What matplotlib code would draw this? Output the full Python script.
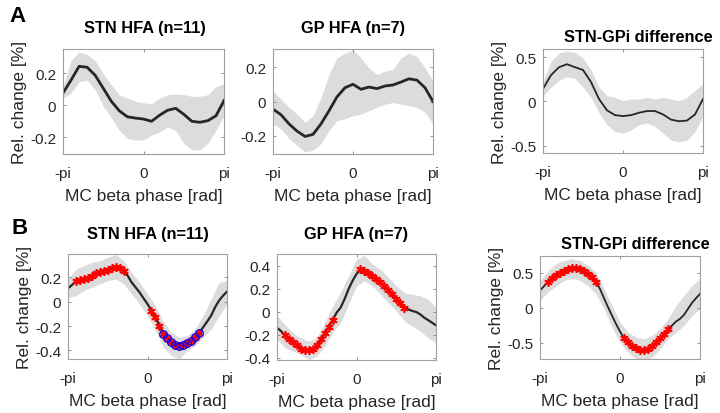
import numpy as np
import matplotlib
matplotlib.use("Agg")
from matplotlib import pyplot as plt

plt.rcParams['font.family'] = ['Liberation Sans', 'DejaVu Sans']

# phase grids (21 and 41 samples from -pi to pi)
phase21 = np.linspace(-np.pi, np.pi, 21)
phase41 = np.linspace(-np.pi, np.pi, 41)

# ---- row A ----
stn_a_mean = [0.075, 0.156, 0.242, 0.236, 0.186, 0.105, 0.024, -0.036, -0.073, -0.081, -0.087,
              -0.101, -0.063, -0.032, -0.020, -0.057, -0.101, -0.107, -0.097, -0.067, 0.028]
stn_a_hi = [0.115, 0.277, 0.331, 0.317, 0.277, 0.196, 0.125, 0.065, 0.044, 0.024, 0.014,
            0.008, 0.044, 0.065, 0.069, 0.065, 0.055, 0.055, 0.065, 0.115, 0.135]
stn_a_lo = [0.044, 0.075, 0.145, 0.156, 0.095, -0.006, -0.077, -0.158, -0.208, -0.218, -0.218,
            -0.188, -0.168, -0.137, -0.158, -0.238, -0.279, -0.279, -0.238, -0.158, -0.067]

gp_a_mean = [-0.044, -0.077, -0.130, -0.172, -0.203, -0.191, -0.130, -0.054, 0.027, 0.080, 0.100,
             0.071, 0.084, 0.075, 0.090, 0.096, 0.113, 0.132, 0.124, 0.080, 0.0]
gp_a_hi = [0.061, 0.013, -0.034, -0.073, -0.121, -0.082, 0.023, 0.157, 0.253, 0.281, 0.300,
           0.253, 0.195, 0.157, 0.176, 0.186, 0.253, 0.281, 0.262, 0.195, 0.119]
gp_a_lo = [-0.130, -0.159, -0.216, -0.255, -0.293, -0.283, -0.245, -0.168, -0.111, -0.101, -0.082,
           -0.073, -0.054, -0.034, -0.015, -0.006, -0.015, -0.025, -0.034, -0.063, -0.130]

diff_a_mean = [0.142, 0.296, 0.385, 0.419, 0.385, 0.354, 0.219, 0.027, -0.100, -0.154, -0.165,
               -0.154, -0.127, -0.108, -0.108, -0.146, -0.204, -0.223, -0.215, -0.146, 0.027]
diff_a_hi = [0.219, 0.450, 0.546, 0.565, 0.554, 0.488, 0.354, 0.162, 0.065, 0.046, 0.008,
             0.027, 0.027, 0.046, 0.027, 0.046, 0.027, 0.008, 0.046, 0.123, 0.200]
diff_a_lo = [0.065, 0.162, 0.238, 0.277, 0.258, 0.162, 0.046, -0.127, -0.262, -0.338, -0.358,
             -0.319, -0.262, -0.242, -0.281, -0.358, -0.435, -0.454, -0.435, -0.338, -0.165]

# ---- row B ----
stn_b_mean = [0.109, 0.136, 0.166, 0.177, 0.185, 0.196, 0.207, 0.235, 0.240, 0.251, 0.262,
              0.275, 0.281, 0.273, 0.254, 0.213, 0.158, 0.117, 0.076, 0.027, -0.019,
              -0.074, -0.128, -0.196, -0.265, -0.300, -0.333, -0.352, -0.360, -0.352, -0.338,
              -0.319, -0.292, -0.256, -0.210, -0.164, -0.115, -0.046, 0.008, 0.049, 0.082]
stn_b_hi = [0.185, 0.267, 0.295, 0.322, 0.335, 0.363, 0.385, 0.335, 0.240, 0.158, 0.063,
            -0.033, -0.169, -0.251, -0.292, -0.278, -0.224, -0.115, 0.022, 0.158, 0.172]
stn_b_lo = [0.035, 0.049, 0.090, 0.117, 0.145, 0.172, 0.185, 0.145, 0.063, -0.019, -0.115,
            -0.237, -0.374, -0.442, -0.469, -0.401, -0.360, -0.292, -0.224, -0.115, -0.019]
stn_b_stars = [(2, 14), (21, 33)]
stn_b_circles = [(24, 33)]

gp_b_mean = [-0.140, -0.169, -0.207, -0.236, -0.265, -0.294, -0.323, -0.335, -0.335, -0.323, -0.294,
             -0.241, -0.183, -0.131, -0.073, -0.009, 0.035, 0.108, 0.195, 0.267, 0.326,
             0.369, 0.355, 0.335, 0.311, 0.282, 0.253, 0.224, 0.189, 0.151, 0.113,
             0.079, 0.035, 0.020, 0.006, -0.003, -0.023, -0.052, -0.073, -0.096, -0.119]
gp_b_hi = [-0.038, -0.111, -0.183, -0.227, -0.256, -0.227, -0.096, 0.049, 0.166, 0.311, 0.457,
           0.486, 0.413, 0.369, 0.297, 0.224, 0.166, 0.151, 0.137, 0.108, 0.035]
gp_b_lo = [-0.241, -0.314, -0.343, -0.372, -0.416, -0.387, -0.300, -0.183, -0.096, 0.064, 0.224,
           0.268, 0.224, 0.151, 0.079, 0.006, -0.081, -0.125, -0.169, -0.227, -0.271]
gp_b_stars = [(2, 14), (21, 32)]

diff_b_mean = [0.248, 0.309, 0.376, 0.424, 0.462, 0.500, 0.533, 0.557, 0.571, 0.567, 0.548,
               0.519, 0.486, 0.438, 0.367, 0.271, 0.138, 0.010, -0.110, -0.229, -0.338,
               -0.433, -0.491, -0.538, -0.576, -0.595, -0.600, -0.586, -0.548, -0.491, -0.433,
               -0.371, -0.300, -0.252, -0.195, -0.157, -0.100, -0.014, 0.071, 0.138, 0.200]
diff_b_hi = [0.390, 0.533, 0.629, 0.676, 0.700, 0.676, 0.605, 0.510, 0.271, 0.033, -0.205,
             -0.348, -0.419, -0.443, -0.395, -0.300, -0.157, 0.033, 0.176, 0.319, 0.414]
diff_b_lo = [0.105, 0.224, 0.319, 0.390, 0.424, 0.390, 0.319, 0.200, -0.014, -0.276, -0.490,
             -0.633, -0.729, -0.752, -0.705, -0.586, -0.443, -0.348, -0.252, -0.110, -0.014]
diff_b_stars = [(2, 14), (21, 32)]

W, H = 720, 414
fig = plt.figure(figsize=(7.2, 4.14), dpi=100)

band_col = '#dcdcdc'
line_col = '#262626'
ylab = 'Rel. change [%]'
xlab = 'MC beta phase [rad]'


def make_ax(x0, x1, y0, y1):
    return fig.add_axes([x0 / W, 1 - y1 / H, (x1 - x0) / W, (y1 - y0) / H])


def panel(ax, xb, hi, lo, xm, mean, ylim, yticks, lw, stars=(), circles=(), ylabel=False):
    ax.fill_between(xb, lo, hi, color=band_col, lw=0)
    ax.plot(xm, mean, color=line_col, lw=lw)
    xm = np.asarray(xm)
    mean = np.asarray(mean)
    for a, b in stars:
        ax.plot(xm[a:b + 1], mean[a:b + 1], ls='none', marker=(6, 2, 0), ms=6,
                mec='red', mew=1.2)
    for a, b in circles:
        ax.plot(xm[a:b + 1], mean[a:b + 1], ls='none', marker='o', ms=5.5,
                mfc='none', mec='blue', mew=0.8)
    ax.set_xlim(-np.pi, np.pi)
    ax.set_ylim(*ylim)
    ax.set_xticks([-np.pi, 0, np.pi], ['-pi', '0', 'pi'])
    ax.set_yticks(yticks, ['0' if t == 0 else ('%g' % t) for t in yticks])
    ax.tick_params(direction='in', top=True, right=True, length=2.5, width=0.6,
                   color='#808080', labelsize=11, labelcolor='#262626')
    ax.tick_params(axis='x', pad=8.5)
    ax.tick_params(axis='y', pad=5)
    for s in ax.spines.values():
        s.set_color('#a0a0a0')
        s.set_linewidth(0.8)
    ax.set_xlabel(xlab, fontsize=12.5, color='#262626', labelpad=6)
    if ylabel:
        ax.set_ylabel(ylab, fontsize=12.5, color='#262626', labelpad=2)


ax = make_ax(63, 224, 50, 155)
panel(ax, phase21, stn_a_hi, stn_a_lo, phase21, stn_a_mean, (-0.305, 0.35), [-0.2, 0, 0.2], 2.0, ylabel=True)
ax = make_ax(273, 433, 50, 155)
panel(ax, phase21, gp_a_hi, gp_a_lo, phase21, gp_a_mean, (-0.305, 0.305), [-0.2, 0, 0.2], 2.0)
ax = make_ax(543, 703, 50, 154)
panel(ax, phase21, diff_a_hi, diff_a_lo, phase21, diff_a_mean, (-0.58, 0.59), [-0.5, 0, 0.5], 1.3, ylabel=True)

ax = make_ax(68, 227, 255, 360)
panel(ax, phase21, stn_b_hi, stn_b_lo, phase41, stn_b_mean, (-0.47, 0.39), [-0.4, -0.2, 0, 0.2], 1.6,
      stars=stn_b_stars, circles=stn_b_circles, ylabel=True)
ax = make_ax(277, 436, 255, 361)
panel(ax, phase21, gp_b_hi, gp_b_lo, phase41, gp_b_mean, (-0.42, 0.5), [-0.4, -0.2, 0, 0.2, 0.4], 1.6,
      stars=gp_b_stars)
ax = make_ax(540, 700, 257, 360)
panel(ax, phase21, diff_b_hi, diff_b_lo, phase41, diff_b_mean, (-0.73, 0.74), [-0.5, 0, 0.5], 1.3,
      stars=diff_b_stars, ylabel=True)

tkw = dict(fontsize=11.8, fontweight='bold', ha='center', va='center', color='black')
fig.text(145 / W, 1 - 28 / H, 'STN HFA (n=11)', **tkw)
fig.text(353 / W, 1 - 28 / H, 'GP HFA (n=7)', **tkw)
fig.text(638 / W, 1 - 38 / H, 'STN-GPi difference', **tkw)
fig.text(148 / W, 1 - 235 / H, 'STN HFA (n=11)', **tkw)
fig.text(356 / W, 1 - 235 / H, 'GP HFA (n=7)', **tkw)
fig.text(635 / W, 1 - 245 / H, 'STN-GPi difference', **tkw)

fig.text(18 / W, 1 - 17 / H, 'A', fontsize=16, fontweight='bold', ha='center', va='center')
fig.text(20 / W, 1 - 229 / H, 'B', fontsize=16, fontweight='bold', ha='center', va='center')

fig.savefig('out.png', dpi=100)
